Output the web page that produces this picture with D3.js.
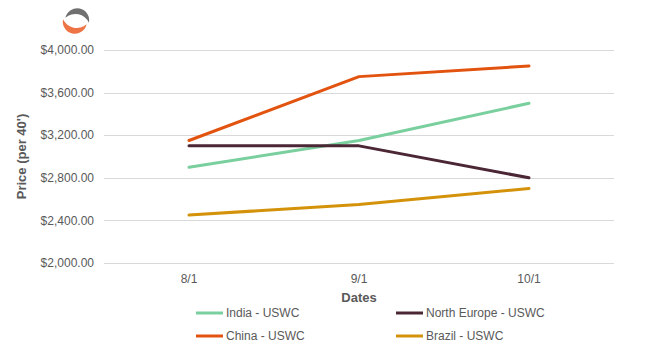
<!DOCTYPE html>
<html>
<head>
<meta charset="utf-8">
<script src="https://cdn.jsdelivr.net/npm/d3@7"></script>
<style>
  body { margin: 0; background: #fff; }
  text { font-family: "Liberation Sans", Arial, sans-serif; }
</style>
</head>
<body>
<div id="chart"></div>
<script>
// data
const dates = ['8/1', '9/1', '10/1']
const india = [2900, 3150, 3500]
const northEurope = [3100, 3100, 2800]
const china = [3150, 3750, 3850]
const brazil = [2450, 2550, 2700]
const yTicks = [2000, 2400, 2800, 3200, 3600, 4000]

const series = [
    {name: 'India - USWC', values: india, color: '#7acf9e'},
    {name: 'North Europe - USWC', values: northEurope, color: '#4b2634'},
    {name: 'China - USWC', values: china, color: '#e2530f'},
    {name: 'Brazil - USWC', values: brazil, color: '#d4920b'}
]

const width = 650, height = 359
const margin = {top: 50, right: 36, bottom: 96, left: 104}

const svg = d3.select('#chart').append('svg')
    .attr('width', width)
    .attr('height', height)

// little logo in the corner: two crescents (gray top, orange bottom)
const logo = svg.append('g').attr('transform', 'translate(76,21) rotate(12)')
const crescent = 'M-12,0 A12,12 0 0 1 12,0 A15,15 0 0 0 -12,0 Z'
logo.append('path')
    .attr('d', crescent)
    .attr('fill', '#707070')
    .attr('transform', 'translate(1,-1)')
logo.append('path')
    .attr('d', crescent)
    .attr('fill', '#ee7445')
    .attr('transform', 'translate(-1,1) rotate(180)')

const x = d3.scalePoint()
    .domain(dates)
    .range([margin.left, width - margin.right])
    .padding(0.5)

const y = d3.scaleLinear()
    .domain([2000, 4000])
    .range([height - margin.bottom, margin.top])

// gridlines
svg.append('g')
    .selectAll('line')
    .data(yTicks)
    .join('line')
    .attr('x1', margin.left)
    .attr('x2', width - margin.right)
    .attr('y1', d => Math.round(y(d)) + 0.5)
    .attr('y2', d => Math.round(y(d)) + 0.5)
    .attr('stroke', '#d9d9d9')
    .attr('stroke-width', 1)

// y axis labels
const fmt = d3.format('$,.2f')
svg.append('g')
    .selectAll('text')
    .data(yTicks)
    .join('text')
    .attr('x', margin.left - 10)
    .attr('y', d => y(d))
    .attr('dy', '0.35em')
    .attr('text-anchor', 'end')
    .attr('font-size', 12)
    .attr('fill', '#595959')
    .text(d => fmt(d))

// x axis labels
svg.append('g')
    .selectAll('text')
    .data(dates)
    .join('text')
    .attr('x', d => x(d))
    .attr('y', height - margin.bottom + 20)
    .attr('text-anchor', 'middle')
    .attr('font-size', 12)
    .attr('fill', '#595959')
    .text(d => d)

// axis titles
svg.append('text')
    .attr('x', (margin.left + width - margin.right) / 2)
    .attr('y', 302)
    .attr('text-anchor', 'middle')
    .attr('font-size', 13)
    .attr('font-weight', 'bold')
    .attr('fill', '#595959')
    .text('Dates')

svg.append('text')
    .attr('transform', `translate(26, ${(margin.top + height - margin.bottom) / 2}) rotate(-90)`)
    .attr('text-anchor', 'middle')
    .attr('font-size', 13)
    .attr('font-weight', 'bold')
    .attr('fill', '#595959')
    .text("Price (per 40')")

// lines
const line = d3.line()
    .x((d, i) => x(dates[i]))
    .y(d => y(d))

svg.append('g')
    .selectAll('path')
    .data(series)
    .join('path')
    .attr('d', d => line(d.values))
    .attr('fill', 'none')
    .attr('stroke', d => d.color)
    .attr('stroke-width', 3)
    .attr('stroke-linecap', 'round')
    .attr('stroke-linejoin', 'round')

// legend, two columns
const legend = svg.append('g')
    .selectAll('g')
    .data(series)
    .join('g')
    .attr('transform', (d, i) => `translate(${196 + (i % 2) * 200}, ${313 + Math.floor(i / 2) * 23})`)

legend.append('line')
    .attr('x1', 0)
    .attr('x2', 27)
    .attr('stroke', d => d.color)
    .attr('stroke-width', 3)

legend.append('text')
    .attr('x', 30)
    .attr('dy', '0.35em')
    .attr('font-size', 12)
    .attr('fill', '#595959')
    .text(d => d.name)
</script>
</body>
</html>
